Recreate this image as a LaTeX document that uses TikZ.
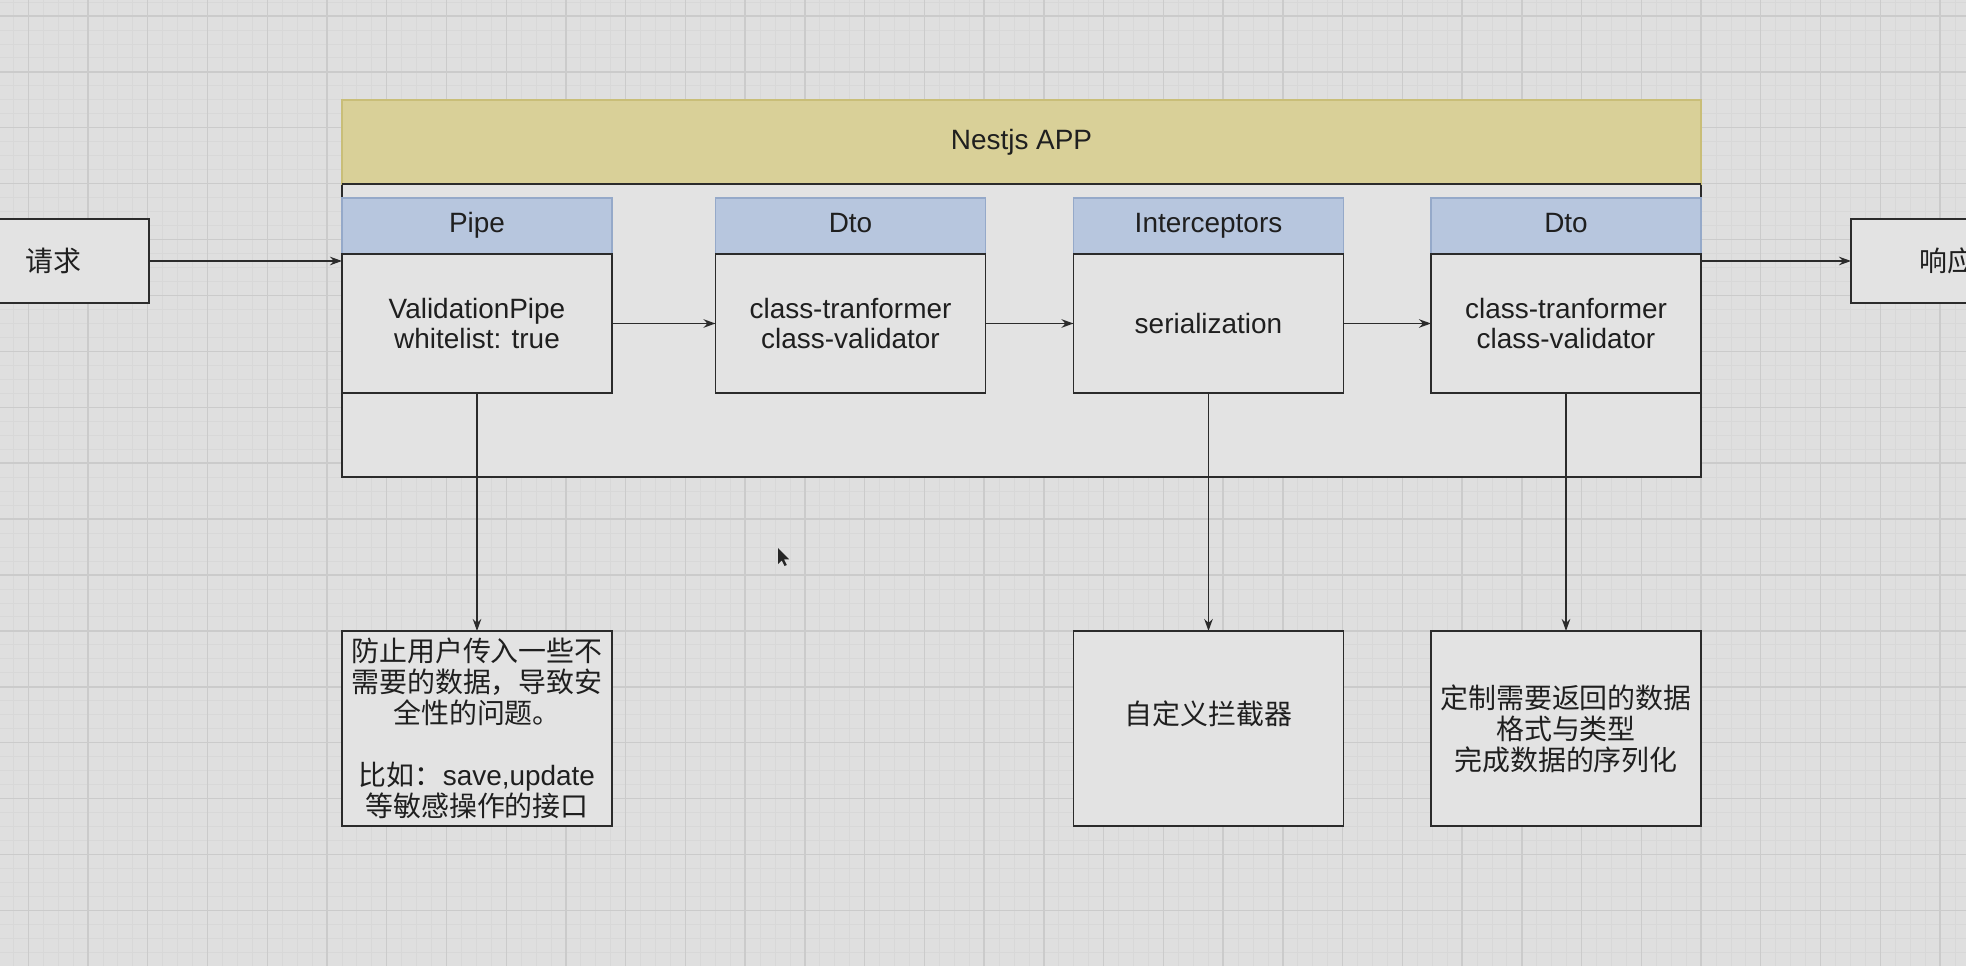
\documentclass[tikz,border=0pt]{standalone}
\usepackage{fontspec}
\setmainfont{Liberation Sans}
\newfontfamily\cjk{Noto Sans CJK SC}
\usepackage{xcolor}
\usepackage{tikz}
\usetikzlibrary{positioning,arrows.meta}
\definecolor{fondEcran}{HTML}{DFDFDF}
\definecolor{grilleClaire}{HTML}{D8D8D8}
\definecolor{grilleFoncee}{HTML}{CBCBCB}
\definecolor{fondBoite}{HTML}{E3E3E3}
\definecolor{jauneTete}{HTML}{D9D098}
\definecolor{jauneBord}{HTML}{C9BE78}
\definecolor{bleuTete}{HTML}{B7C6DE}
\definecolor{bleuBord}{HTML}{95A9C9}
\definecolor{trait}{HTML}{2B2B2B}
\newcommand{\taillePolice}{\fontsize{15.9}{17.6}\selectfont}
\tikzset{
  boite/.style={
    rectangle, draw=trait, fill=fondBoite, line width=1.1pt,
    align=center, inner sep=0pt, outer sep=0pt,
    text=black!88, font=\taillePolice},
  boiteCjk/.style={boite, font=\taillePolice\cjk},
  tete/.style={boite, draw=bleuBord, fill=bleuTete,
    minimum width=5.4cm, minimum height=1.12cm,
    text height=0.75em, text depth=0.03em},
  corps/.style={boite, minimum width=5.4cm, minimum height=2.78cm},
  note/.style={boiteCjk, minimum width=5.4cm, minimum height=3.9cm},
  fleche/.style={-{Stealth[length=2.4mm,width=1.7mm]}, draw=trait, line width=1pt},
  grilleFine/.style={draw=grilleClaire, line width=0.5pt},
  grilleForte/.style={draw=grilleFoncee, line width=0.8pt}
}

\begin{document}
\begin{tikzpicture}

  % --- Fond quadrille
  \clip (0,0) rectangle (39.32,-19.32);
  \fill[fondEcran] (0,0) rectangle (39.32,-19.32);
  \foreach \i in {-2,...,132}
    \draw[grilleFine] ({0.566+0.2987*\i},0) -- ++(0,-19.32);
  \foreach \j in {-2,...,70}
    \draw[grilleFine] (0,{-0.32-0.2795*\j}) -- ++(39.32,0);
  \foreach \i in {0,...,32}
    \draw[grilleForte] ({0.566+1.1948*\i},0) -- ++(0,-19.32);
  \foreach \j in {0,...,17}
    \draw[grilleForte] (0,{-0.32-1.118*\j}) -- ++(39.32,0);

  % --- Application Nest
  \node[boite, minimum width=27.18cm, minimum height=5.86cm] (app) at (20.43,-6.61) {};
  \node[boite, draw=jauneBord, fill=jauneTete, minimum width=27.18cm,
        minimum height=1.68cm] (appTete) at (20.43,-2.84) {Nestjs APP};
  \draw[trait, line width=1.1pt] (app.north west) -- (app.north east);

  % --- Les quatre etapes
  \node[tete] (pipeT) at ( 9.54,-4.52) {Pipe};
  \node[tete] (dtoT)  at (17.01,-4.52) {Dto};
  \node[tete] (intT)  at (24.17,-4.52) {Interceptors};
  \node[tete] (dtoRT) at (31.32,-4.52) {Dto};
  \node[corps, below=0pt of pipeT] (pipeC) {ValidationPipe\\whitelist: true};
  \node[corps, below=0pt of dtoT]  (dtoC)  {class-tranformer\\class-validator};
  \node[corps, below=0pt of intT]  (intC)  {serialization};
  \node[corps, below=0pt of dtoRT] (dtoRC) {class-tranformer\\class-validator};

  % --- Entree et sortie
  \node[boiteCjk, minimum width=3.84cm, minimum height=1.68cm] (req)  at ( 1.06,-5.22) {请求};
  \node[boiteCjk, minimum width=3.84cm, minimum height=1.68cm] (resp) at (38.94,-5.22) {响应};

  % --- Notes
  \node[note] (noteP) at ( 9.54,-14.57)
    {防止用户传入一些不\\需要的数据，导致安\\全性的问题。\\~\\比如：{\rmfamily save,update}\\等敏感操作的接口};
  \node[note] (noteI) at (24.17,-14.57) {自定义拦截器\\~};
  \node[note] (noteD) at (31.32,-14.57) {定制需要返回的数据\\格式与类型\\完成数据的序列化};

  % --- Flux
  \draw[fleche] (req.east) -- (req.east -| app.west);
  \draw[fleche] (pipeC) -- (dtoC);
  \draw[fleche] (dtoC) -- (intC);
  \draw[fleche] (intC) -- (dtoRC);
  \draw[fleche] (resp.west -| dtoRC.east) -- (resp.west);

  % --- Renvois vers les notes
  \draw[fleche] (pipeC.south) -- (noteP.north);
  \draw[fleche] (intC.south) -- (noteI.north);
  \draw[fleche] (dtoRC.south) -- (noteD.north);

  % --- Pointeur de souris
  \fill[black!85, shift={(15.56,-10.96)}] (0,0) -- (0,-0.32) -- (0.075,-0.245)
    -- (0.13,-0.36) -- (0.175,-0.34) -- (0.12,-0.225) -- (0.22,-0.225) -- cycle;

\end{tikzpicture}
\end{document}
